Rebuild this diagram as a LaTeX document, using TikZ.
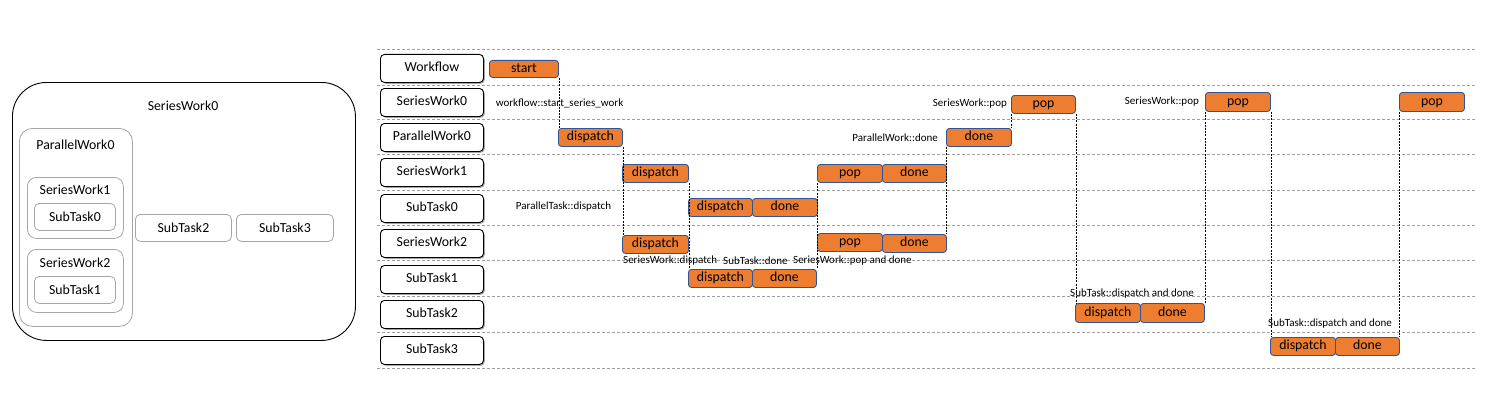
\documentclass[tikz,border=0pt]{standalone}
\usepackage{fontspec}
\setmainfont{Carlito}
\usetikzlibrary{shadows}
\definecolor{orangeF}{HTML}{ED7D31}
\definecolor{blueB}{HTML}{2F5597}
\definecolor{grayB}{HTML}{A6A6A6}
\definecolor{gridG}{HTML}{A0A0A0}
\begin{document}
\begin{tikzpicture}[x=1pt,y=-1pt,
  every node/.style={font=\fontsize{13.8}{16}\selectfont, inner sep=0pt},
  lanebox/.style={draw=black, line width=0.9pt, rounded corners=4pt, fill=white,
    minimum width=103pt, minimum height=28pt, anchor=north west,
    text height=9.5pt, text depth=2.5pt,
    drop shadow={shadow xshift=1.3pt, shadow yshift=-1.3pt, opacity=0.35, fill=black}},
  ev/.style={draw=blueB, line width=0.9pt, fill=orangeF, rounded corners=3pt,
    anchor=north west, minimum height=18pt, text height=9.5pt, text depth=2.5pt},
  small/.style={font=\fontsize{11}{13}\selectfont},
  grid/.style={draw=gridG, line width=0.7pt, dash pattern=on 3pt off 2pt},
  link/.style={draw=black, line width=0.8pt, dash pattern=on 2pt off 1.2pt},
  outerbox/.style={draw=black, line width=0.9pt, rounded corners=34pt, anchor=north west},
  innerbox/.style={draw=grayB, line width=0.8pt, anchor=north west},
]
\useasboundingbox (0,0) rectangle (1506,404);

% ---------- left panel ----------
\node[outerbox, minimum width=343pt, minimum height=258pt] (osw0) at (12,82) {};
\node at (183,106) {SeriesWork0};
\node[innerbox, rounded corners=13pt, minimum width=113pt, minimum height=198pt] (opw0) at (19,128) {};
\node at (75.5,145) {ParallelWork0};
\node[innerbox, rounded corners=9pt, minimum width=96pt, minimum height=61pt] (osw1) at (27,177) {};
\node at (75,190) {SeriesWork1};
\node[innerbox, rounded corners=5pt, minimum width=81pt, minimum height=27pt] (ost0) at (34,203) {SubTask0};
\node[innerbox, rounded corners=9pt, minimum width=96pt, minimum height=63pt] (osw2) at (27,249) {};
\node at (75,263) {SeriesWork2};
\node[innerbox, rounded corners=5pt, minimum width=81pt, minimum height=27pt] (ost1) at (34,276) {SubTask1};
\node[innerbox, rounded corners=5pt, minimum width=96pt, minimum height=27pt] (ost2) at (135,214) {SubTask2};
\node[innerbox, rounded corners=5pt, minimum width=97pt, minimum height=27pt] (ost3) at (236,214) {SubTask3};

% ---------- timeline grid ----------
\foreach \yy in {49,85,119,154,190,225,260,296,332,368}
  \draw[grid] (377,\yy) -- (1476,\yy);

% ---------- lane labels ----------
\node[lanebox] (lwf)  at (380,54)  {Workflow};
\node[lanebox] (lsw0) at (380,88)  {SeriesWork0};
\node[lanebox] (lpw0) at (380,123) {ParallelWork0};
\node[lanebox] (lsw1) at (380,158) {SeriesWork1};
\node[lanebox] (lst0) at (380,194) {SubTask0};
\node[lanebox] (lsw2) at (380,229) {SeriesWork2};
\node[lanebox] (lst1) at (380,265) {SubTask1};
\node[lanebox] (lst2) at (380,300) {SubTask2};
\node[lanebox] (lst3) at (380,336) {SubTask3};

% ---------- events ----------
\node[ev, minimum width=69pt, minimum height=17pt] (start) at (489,60) {start};
\node[ev, minimum width=64pt] (pwdisp) at (558,128) {dispatch};
\node[ev, minimum width=66pt] (sw1disp) at (622,164) {dispatch};
\node[ev, minimum width=64pt] (st0disp) at (688,198) {dispatch};
\node[ev, minimum width=65pt] (st0done) at (752,198) {done};
\node[ev, minimum width=65pt] (sw1pop) at (817,164) {pop};
\node[ev, minimum width=64pt] (sw1done) at (882,164) {done};
\node[ev, minimum width=66pt] (sw2disp) at (622,235) {dispatch};
\node[ev, minimum width=64pt] (st1disp) at (688,269) {dispatch};
\node[ev, minimum width=64pt] (st1done) at (752,269) {done};
\node[ev, minimum width=65pt] (sw2pop) at (817,233) {pop};
\node[ev, minimum width=64pt] (sw2done) at (882,234) {done};
\node[ev, minimum width=65pt] (pwdone) at (946,128) {done};
\node[ev, minimum width=64pt] (pop1) at (1011,95) {pop};
\node[ev, minimum width=65pt, minimum height=19pt] (pop2) at (1205,92) {pop};
\node[ev, minimum width=65pt, minimum height=19pt] (pop3) at (1399,92) {pop};
\node[ev, minimum width=65pt, minimum height=19pt] (st2disp) at (1075,303) {dispatch};
\node[ev, minimum width=64pt, minimum height=19pt] (st2done) at (1140,303) {done};
\node[ev, minimum width=65pt] (st3disp) at (1270,337) {dispatch};
\node[ev, minimum width=64pt] (st3done) at (1335,337) {done};

% ---------- connectors ----------
\draw[link] (start.south east) -- (start.south east |- pwdisp.north);
\draw[link] (pwdisp.south east) -- (pwdisp.south east |- sw2disp.north);
\draw[link] (sw1disp.south east) -- (sw1disp.south east |- st1disp.north);
\draw[link] (sw1pop.south west) -- (sw1pop.south west |- st1done.north);
\draw[link] (pwdone.south west) -- (pwdone.south west |- sw2done.north);
\draw[link] (pop1.south west) -- (pop1.south west |- pwdone.north);
\draw[link] (pop1.south east) -- (pop1.south east |- st2disp.north);
\draw[link] (pop2.south west) -- (pop2.south west |- st2done.north);
\draw[link] (pop2.south east) -- (pop2.south east |- st3disp.north);
\draw[link] (pop3.south west) -- (pop3.south west |- st3done.north);

% ---------- call labels ----------
\node[small] (t1) at (559.5,103) {workflow::start\_series\_work};
\node[small] (t2) at (563.5,207) {ParallelTask::dispatch};
\node[small, anchor=west] (t3) at (623,261) {SeriesWork::dispatch};
\node[small, anchor=west] (t4) at (723,261) {SubTask::done};
\node[small, anchor=west] (t5) at (793,261) {SeriesWork::pop and done};
\node[small, anchor=east] (t6) at (938,138) {ParallelWork::done};
\node[small, anchor=east] (t7) at (1007,104) {SeriesWork::pop};
\node[small, anchor=east] (t8) at (1199,102) {SeriesWork::pop};
\node[small, anchor=west] (t9) at (1070,294) {SubTask::dispatch and done};
\node[small, anchor=west] (t10) at (1268,324) {SubTask::dispatch and done};
\end{tikzpicture}
\end{document}
